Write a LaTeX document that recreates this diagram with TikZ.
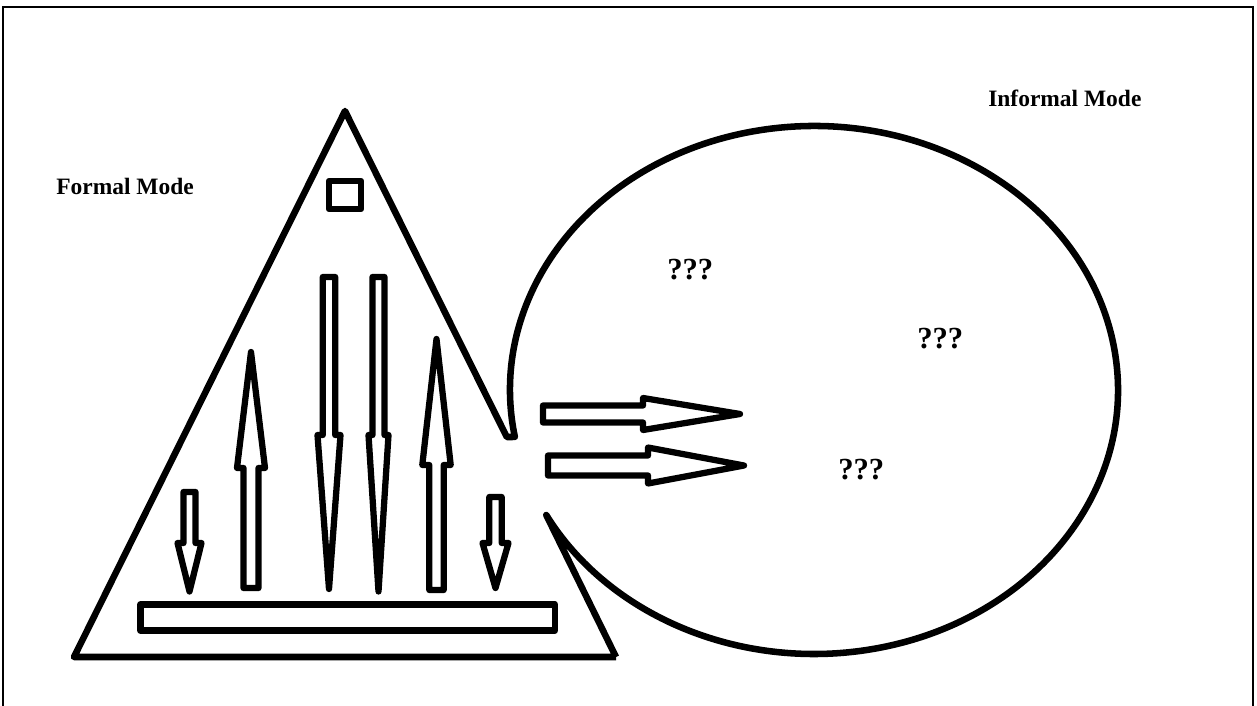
\documentclass[tikz,border=0pt]{standalone}
\usepackage{fontspec}
\setmainfont{Liberation Serif}
\usetikzlibrary{calc}
\newcommand{\vblock}[6]{%
  \draw[blk] ({#1-#2},{-#3}) -- ({#1+#2},{-#3}) -- ({#1+#2},{-#4}) -- ({#1+#5},{-#4})
    -- (#1,{-#6}) -- ({#1-#5},{-#4}) -- ({#1-#2},{-#4}) -- cycle;}
\newcommand{\hblock}[6]{%
  \draw[blk] (#3,{-#1+#2}) -- (#4,{-#1+#2}) -- (#4,{-#1+#5}) -- (#6,{-#1})
    -- (#4,{-#1-#5}) -- (#4,{-#1-#2}) -- (#3,{-#1-#2}) -- cycle;}

\begin{document}
\begin{tikzpicture}[
  x=0.75pt, y=0.75pt,
  outline/.style={line width=4.9pt, line join=round},
  blk/.style={line width=4.7pt, line join=round},
  modelabel/.style={font=\fontsize{17.6}{20}\selectfont\bfseries, inner sep=0pt, anchor=base west},
  qmark/.style={font=\fontsize{23}{26}\selectfont\bfseries, inner sep=0pt, anchor=base west}
]
\useasboundingbox (0,0) rectangle (1257,-706);
\draw[line width=1pt] (3,-706) -- (3,-7) -- (1253,-7) -- (1253,-706);

\coordinate (apex) at (345,-111);
\coordinate (bl) at (74,-657);
\coordinate (br) at (616,-657);
\coordinate (ctr) at (814,-390);

% pyramid and open circle as one outline
\draw[outline] (br) -- (bl) -- (apex) -- (506.8,-437)
  -- ($(ctr)+(190.25:304 and 264)$)
  arc[start angle=190.25, end angle=-151.74, x radius=304, y radius=264]
  -- (br);

\draw[outline] (329,-181) rectangle (361,-209);
\draw[outline] (140.5,-604.5) rectangle (555,-630.5);

\vblock{189.5}{6}{492}{543}{12}{591.5}
\vblock{251}{7.5}{588}{468}{14}{352}
\vblock{329}{6.2}{277}{435}{11.5}{589}
\vblock{378.5}{6}{277}{435}{10}{591.5}
\vblock{436.5}{7.2}{590}{465}{14.2}{339}
\vblock{495.5}{6.2}{497}{543}{13}{588}

\hblock{414}{8.5}{543}{643}{16}{740}
\hblock{465.5}{10}{548}{648}{18}{744}

\node[modelabel] (formal) at (56,-195) {Formal Mode};
\node[modelabel] (informal) at (988,-107) {Informal Mode};

\node[qmark] (q1) at (667,-279) {???};
\node[qmark] (q2) at (917,-348) {???};
\node[qmark] (q3) at (838,-479) {???};
\end{tikzpicture}
\end{document}
